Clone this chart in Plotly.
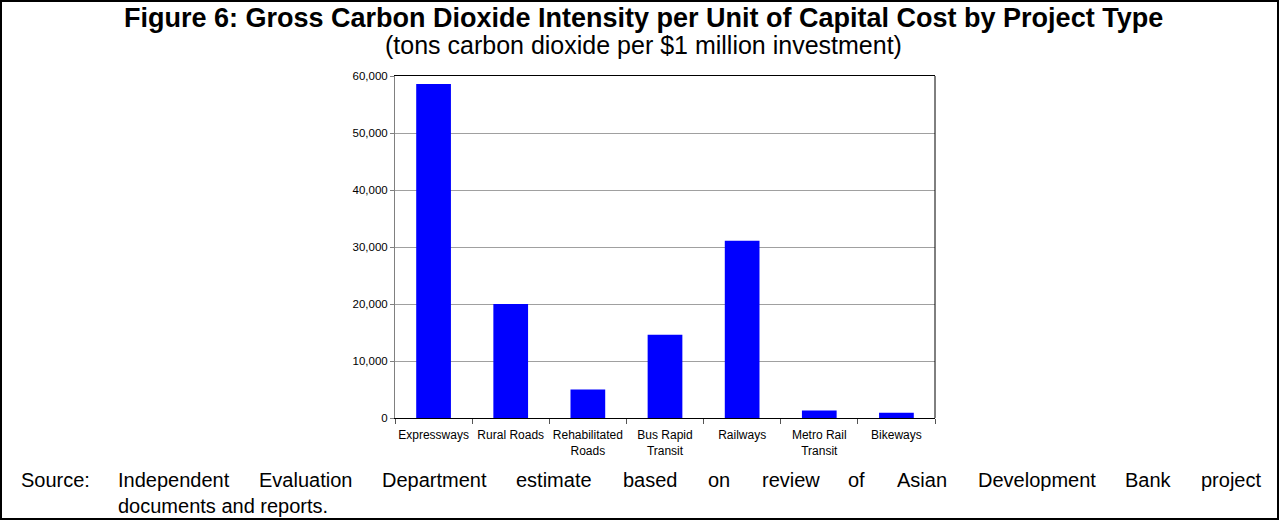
import plotly.graph_objects as go

# data
project_types = ["Expressways", "Rural Roads", "Rehabilitated<br>Roads", "Bus Rapid<br>Transit",
                 "Railways", "Metro Rail<br>Transit", "Bikeways"]
co2_intensity = [58600, 20000, 5000, 14600, 31100, 1300, 900]
y_ticks = [0, 10000, 20000, 30000, 40000, 50000, 60000]

title = "Figure 6: Gross Carbon Dioxide Intensity per Unit of Capital Cost by Project Type"
subtitle = "(tons carbon dioxide per $1 million investment)"
source_words = ["Source:", "Independent", "Evaluation", "Department", "estimate", "based", "on",
                "review", "of", "Asian", "Development", "Bank", "project"]
source_line2 = "documents and reports."

# page geometry (pixels)
W, H = 1279, 520
L, R, T, B = 395, 935, 76, 418
# left edge of each word of the justified source line
word_x = [20, 117, 258, 381, 515, 622, 707, 761, 847, 896, 977, 1124, 1200]


def px(x):
    return (x - L) / (R - L)


def py(y):
    return (B - y) / (B - T)


fig = go.Figure(go.Bar(
    x=project_types,
    y=co2_intensity,
    marker=dict(color="#0000ff", line=dict(width=0)),
    width=0.45,
))

font = "Arial, Liberation Sans, sans-serif"

fig.update_layout(
    width=W, height=H,
    margin=dict(l=L, r=W - R, t=T, b=H - B),
    paper_bgcolor="white", plot_bgcolor="white",
    showlegend=False,
    font=dict(family=font, color="black"),
    xaxis=dict(
        showline=True, linecolor="black", linewidth=1, mirror=True,
        ticks="outside", tickson="boundaries", ticklen=5, tickcolor="#555",
        tickfont=dict(size=12), tickangle=0, ticklabelstandoff=6, showgrid=False,
    ),
    yaxis=dict(
        range=[0, 60000], tickvals=y_ticks, tickformat=",d",
        showline=True, linecolor="#808080", linewidth=1,
        ticks="outside", ticklen=4, tickcolor="#808080",
        tickfont=dict(size=11.5),
        showgrid=True, gridcolor="#a0a0a0", gridwidth=1, zeroline=False,
    ),
)

# right border of plot
fig.add_shape(type="line", xref="paper", yref="paper", x0=1, x1=1, y0=0, y1=1,
              line=dict(color="black", width=1))

# outer box
fig.add_shape(type="rect", xref="paper", yref="paper",
              x0=px(1), x1=px(W - 1), y0=py(H - 1), y1=py(1),
              line=dict(color="black", width=2))

fig.add_annotation(text="<b>" + title + "</b>", xref="paper", yref="paper",
                   x=px(643), y=py(18), xanchor="center", yanchor="middle",
                   showarrow=False, font=dict(size=27, family=font))
fig.add_annotation(text=subtitle, xref="paper", yref="paper",
                   x=px(643), y=py(45), xanchor="center", yanchor="middle",
                   showarrow=False, font=dict(size=25, family=font))

for w, x in zip(source_words, word_x):
    fig.add_annotation(text=w, xref="paper", yref="paper", x=px(x), y=py(480),
                       xanchor="left", yanchor="middle", showarrow=False, borderpad=0,
                       font=dict(size=20, family=font))
fig.add_annotation(text=source_line2, xref="paper", yref="paper", x=px(word_x[1]), y=py(506),
                   xanchor="left", yanchor="middle", showarrow=False, borderpad=0,
                   font=dict(size=20, family=font))

fig.write_html("out.html", config={"displayModeBar": False},
               post_script="document.body.style.margin='0';")
